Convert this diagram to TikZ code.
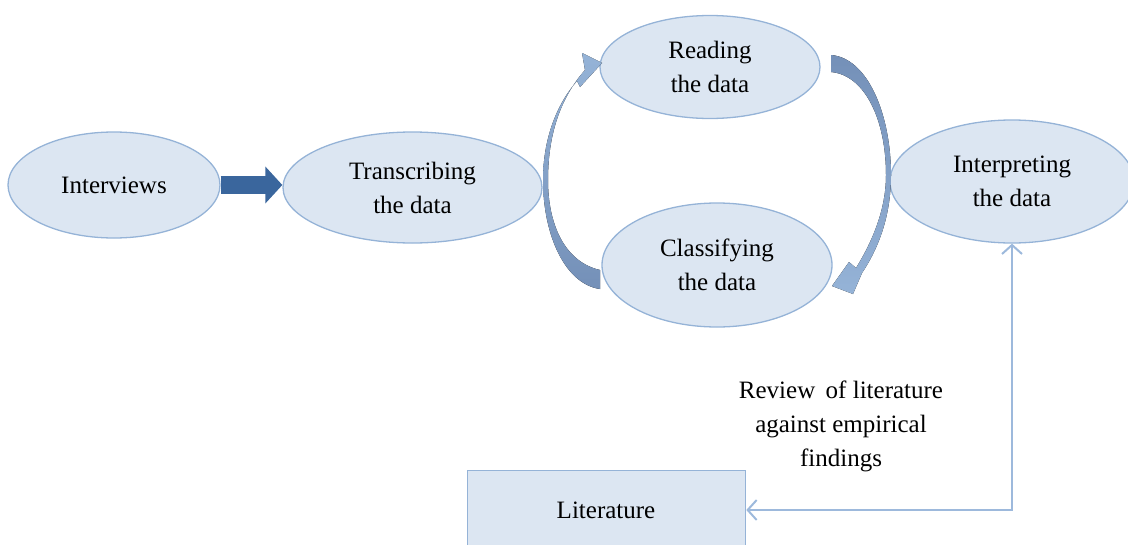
\documentclass[tikz,border=0pt]{standalone}
\usepackage{fontspec}
\setmainfont{Liberation Serif}
\usetikzlibrary{shapes.geometric,arrows.meta}
\definecolor{efill}{HTML}{DCE6F2}
\definecolor{eline}{HTML}{95B3D7}
\definecolor{darkarrow}{HTML}{3A669D}
\definecolor{curvedark}{HTML}{7490B8}
\definecolor{curvelight}{HTML}{95B3D7}
\definecolor{conn}{HTML}{9DB9DC}
\tikzset{
  stage/.style={ellipse, draw=eline, fill=efill, line width=1.3pt, inner sep=0pt,
    align=center, font=\fontsize{25}{34}\selectfont},
  litbox/.style={rectangle, draw=eline, fill=efill, line width=1.3pt, inner sep=0pt,
    align=center, font=\fontsize{25}{34}\selectfont},
  lbl/.style={align=center, font=\fontsize{25}{34}\selectfont, inner sep=0pt},
  blockarrow/.style={draw=darkarrow, line width=18pt, -{Triangle[length=17pt,width=36pt]}},
  thinconn/.style={draw=conn, line width=2pt, {Straight Barb[length=9pt,width=20pt]}-{Straight Barb[length=9pt,width=20pt]}},
}
\begin{document}
\begin{tikzpicture}[x=1pt,y=-1pt]
\useasboundingbox (0,0) rectangle (1128,544);
\begin{scope}
\clip (0,0) rectangle (1128,544);
\node[stage, minimum width=212pt, minimum height=106pt] (iv) at (114,185) {Interviews};
\node[stage, minimum width=259pt, minimum height=111pt] (tr) at (412.5,187.5) {Transcribing\\the data};
\node[stage, minimum width=220pt, minimum height=103pt] (rd) at (710,67) {Reading\\the data};
\node[stage, minimum width=230pt, minimum height=124pt] (cl) at (717,265) {Classifying\\the data};
\node[stage, minimum width=244pt, minimum height=123pt] (ip) at (1012,181.5) {Interpreting\\the data};
\node[litbox, minimum width=278pt, minimum height=90pt, anchor=north west] (lit) at (467,470) {};
\node[lbl] (littext) at (606,510) {Literature};
\node[lbl] (rev) at (841,426) {Review\, of literature\\against empirical\\findings};
\end{scope}
% thick arrow
\draw[blockarrow] (iv.east) -- (iv.east -| tr.west);
% left curved arrow (Classifying -> Reading)
\fill[top color=curvelight, bottom color=curvedark]
  (600,270) .. controls (565,262) and (548,225) .. (548,180)
  .. controls (548,130) and (563,95) .. (585,70)
  -- (582,53) -- (602,63) -- (580,87) -- (577,81)
  .. controls (556,105) and (543,140) .. (543,180)
  .. controls (543,235) and (565,284) .. (600,289) -- cycle;
% right curved arrow (Reading -> Classifying)
\fill[top color=curvedark, bottom color=curvelight]
  (831,55) .. controls (868,58) and (891,115) .. (891,175)
  .. controls (891,220) and (876,252) .. (862,273)
  -- (853,294) -- (832,286) -- (849,262) -- (856,268)
  .. controls (872,242) and (886,210) .. (886,175)
  .. controls (886,120) and (865,75) .. (831,72) -- cycle;
% thin connector
\draw[thinconn] (lit.east |- 0,510) -- (ip.south |- 0,510) -- (ip.south);
\end{tikzpicture}
\end{document}
